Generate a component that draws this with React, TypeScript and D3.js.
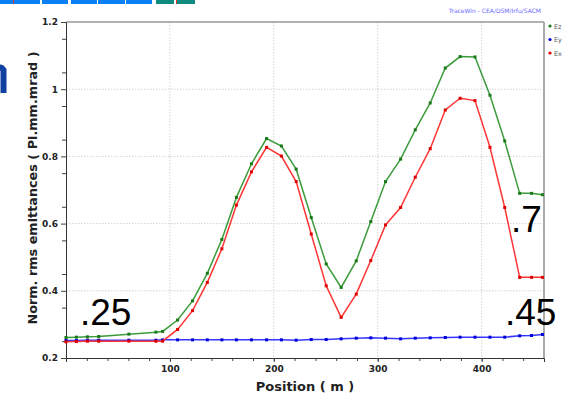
import * as d3 from "d3";
import { useRef, useEffect } from "react";

// element positions (m)
const positions = [0, 10, 20.6, 31.5, 60.5, 86.5, 93, 107.4, 121.8, 136, 150, 164, 178.5, 193, 207.3, 221.5, 236, 250.4, 264.8, 279.3, 293.3, 307.5, 322, 336.1, 350.5, 365, 379.3, 393.6, 408, 422.2, 436.6, 448, 458.5];
const ez = [0.261, 0.262, 0.263, 0.264, 0.271, 0.277, 0.279, 0.313, 0.37, 0.452, 0.553, 0.678, 0.778, 0.853, 0.831, 0.762, 0.618, 0.48, 0.41, 0.489, 0.606, 0.725, 0.792, 0.879, 0.959, 1.063, 1.097, 1.096, 0.982, 0.846, 0.69, 0.69, 0.686];
const ey = [0.252, 0.252, 0.253, 0.253, 0.253, 0.253, 0.254, 0.254, 0.254, 0.254, 0.254, 0.254, 0.254, 0.254, 0.254, 0.253, 0.255, 0.255, 0.257, 0.259, 0.26, 0.259, 0.257, 0.259, 0.26, 0.261, 0.262, 0.262, 0.262, 0.262, 0.266, 0.267, 0.27];
const ex = [0.248, 0.249, 0.25, 0.25, 0.25, 0.25, 0.25, 0.285, 0.341, 0.425, 0.525, 0.655, 0.754, 0.827, 0.801, 0.725, 0.569, 0.415, 0.321, 0.39, 0.49, 0.596, 0.648, 0.738, 0.823, 0.938, 0.973, 0.966, 0.827, 0.648, 0.44, 0.44, 0.44];

const series = [
  { name: "Ez", values: ez, line: "#3c9c3c", dot: "#1a7a1a" },
  { name: "Ey", values: ey, line: "#3535ff", dot: "#0000dd" },
  { name: "Ex", values: ex, line: "#ff3535", dot: "#e00000" },
];

const xMajor = [100, 200, 300, 400];
const yMajor = [0.2, 0.4, 0.6, 0.8, 1.0, 1.2];

// overlay notes pasted on the slide
const notes = [
  { text: ".25", x: 80, y: 325 },
  { text: ".7", x: 511, y: 232 },
  { text: ".45", x: 505, y: 325 },
];

export default function App() {
  const width = 564, height = 396;
  const marginLeft = 66, marginRight = 20, marginTop = 22, marginBottom = 38;

  const gx = useRef<SVGGElement>(null);
  const gxMinor = useRef<SVGGElement>(null);
  const gy = useRef<SVGGElement>(null);
  const gyMinor = useRef<SVGGElement>(null);

  const x = d3.scaleLinear([0, 460], [marginLeft, width - marginRight]);
  const y = d3.scaleLinear([0.2, 1.2], [height - marginBottom, marginTop]);
  const line = d3.line<number>((d, i) => x(positions[i]), (d) => y(d));

  useEffect(() => {
    const ax = d3.select(gx.current!).call(
      d3.axisBottom(x).tickValues(xMajor).tickSize(4).tickPadding(4).tickFormat(d3.format("d"))
    );
    ax.select(".domain").attr("stroke", "#333");
    ax.selectAll("line").attr("stroke", "#444");
    ax.selectAll("text").attr("font-family", "DejaVu Sans").attr("font-weight", "bold").attr("font-size", 9).attr("fill", "#222");

    const axm = d3.select(gxMinor.current!).call(
      d3.axisBottom(x).tickValues(d3.range(20, 460, 20)).tickSize(3).tickFormat(() => "")
    );
    axm.select(".domain").remove();
    axm.selectAll("line").attr("stroke", "#444");

    const ay = d3.select(gy.current!).call(
      d3.axisLeft(y).tickValues(yMajor).tickSize(5).tickPadding(3).tickFormat((d) => String(+(+d).toFixed(1)))
    );
    ay.select(".domain").attr("stroke", "#333");
    ay.selectAll("line").attr("stroke", "#444");
    ay.selectAll("text").attr("font-family", "DejaVu Sans").attr("font-weight", "bold").attr("font-size", 9).attr("fill", "#222");

    const aym = d3.select(gyMinor.current!).call(
      d3.axisLeft(y).tickValues(d3.range(0.25, 1.2, 0.1)).tickSize(4).tickFormat(() => "")
    );
    aym.select(".domain").remove();
    aym.selectAll("line").attr("stroke", "#444");
  }, []);

  return (
    <svg width={width} height={height} style={{ position: "absolute", left: 0, top: 0, background: "#fff" }}>
      {/* slide decorations */}
      <g>
        {[[0, 40], [42, 68], [71, 97], [98, 125], [126, 152]].map(([a, b], i) => (
          <rect key={i} x={a} y={0} width={b - a} height={4} fill="#0a80f5" />
        ))}
        {[[156, 174], [176, 195]].map(([a, b], i) => (
          <rect key={"t" + i} x={a} y={0} width={b - a} height={4} fill="#0e8a80" />
        ))}
        <rect x={13} y={0} width={1} height={4} fill="#e03030" />
        <rect x={176} y={0} width={1} height={4} fill="#e03030" />
        {/* cropped glyph remnant from the slide title */}
        <path d="M-6,72 Q0,64 3.5,70 L3.5,93" fill="none" stroke="#1040a0" strokeWidth={6} />
      </g>

      {/* grid */}
      <g stroke="#d4d4d4" strokeDasharray="1.5,1.5" strokeWidth={1}>
        {xMajor.map((t) => <line key={t} x1={x(t)} x2={x(t)} y1={marginTop} y2={height - marginBottom} />)}
        {yMajor.slice(1, -1).map((t) => <line key={t} x1={marginLeft} x2={width - marginRight} y1={y(t)} y2={y(t)} />)}
      </g>

      {/* frame */}
      <line x1={marginLeft} x2={width - marginRight} y1={marginTop} y2={marginTop} stroke="#999" strokeWidth={1.5} />
      <line x1={width - marginRight} x2={width - marginRight} y1={marginTop} y2={height - marginBottom} stroke="#aaa" strokeWidth={2} />

      <g ref={gxMinor} transform={`translate(0,${height - marginBottom})`} />
      <g ref={gx} transform={`translate(0,${height - marginBottom})`} />
      <g ref={gyMinor} transform={`translate(${marginLeft},0)`} />
      <g ref={gy} transform={`translate(${marginLeft},0)`} />

      {/* series */}
      {series.map((s) => (
        <g key={s.name}>
          <path d={line(s.values)!} fill="none" stroke={s.line} strokeWidth={1.5} />
          {s.values.map((v, i) => (
            <rect key={i} x={x(positions[i]) - 1.5} y={y(v) - 1.5} width={3} height={3} fill={s.dot} />
          ))}
        </g>
      ))}

      {/* titles */}
      <text x={305} y={391} textAnchor="middle" fontFamily="DejaVu Sans" fontWeight="bold" fontSize={13} fill="#222">Position ( m )</text>
      <text transform={`translate(37,188) rotate(-90)`} textAnchor="middle" fontFamily="DejaVu Sans" fontWeight="bold" fontSize={12.8} fill="#222">Norm. rms emittances ( Pi.mm.mrad )</text>
      <text x={541} y={13} textAnchor="end" fontFamily="DejaVu Sans" fontSize={6} fill="#6a6aff">TraceWin - CEA/DSM/Irfu/SACM</text>

      {/* legend */}
      {series.map((s, i) => (
        <g key={s.name} transform={`translate(550,${26 + i * 13.5})`}>
          <circle r={1.6} fill={s.dot} />
          <text x={4} y={2.5} fontFamily="DejaVu Sans" fontSize={6.5} fill="#555">{s.name}</text>
        </g>
      ))}

      {/* notes */}
      {notes.map((n) => (
        <text key={n.text} x={n.x} y={n.y} fontFamily="Liberation Sans" fontSize={37} fill="#000">{n.text}</text>
      ))}
    </svg>
  );
}
